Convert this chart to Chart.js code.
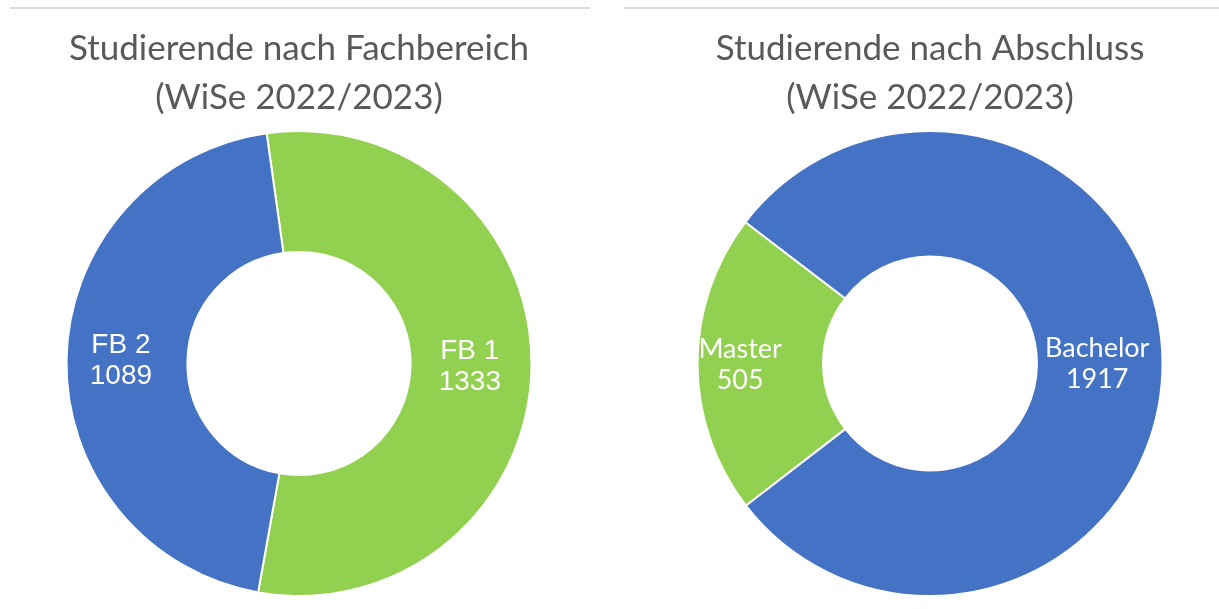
<!DOCTYPE html>
<html lang="de">
<head>
  <meta charset="UTF-8">
  <title>Studierende WiSe 2022/2023</title>
  <script src="https://cdn.jsdelivr.net/npm/chart.js"></script>
  <style>
    body { margin: 0; background: #fff; width: 1219px; height: 609px; overflow: hidden; position: relative; }
    .rule { position: absolute; top: 7px; height: 2px; background: #dcdcdc; }
    .box { position: absolute; top: 0; height: 609px; }
  </style>
</head>
<body>
  <div class="rule" style="left:10px;width:580px"></div>
  <div class="rule" style="left:624px;width:595px"></div>
  <div class="box" style="left:0;width:598px"><canvas id="chartFach"></canvas></div>
  <div class="box" style="left:641px;width:578px"><canvas id="chartAbschluss"></canvas></div>
  <script>
    // data
    const fachLabels = ['FB 1', 'FB 2'];
    const fachValues = [1333, 1089];
    const abschlussLabels = ['Bachelor', 'Master'];
    const abschlussValues = [1917, 505];

    const blue = '#4472C4';
    const green = '#92D050';

    // draws "label / value" inside each slice; pos = where across the ring (0 inner, 1 outer)
    const sliceLabels = {
      id: 'sliceLabels',
      afterDatasetsDraw(chart, args, opts) {
        const ctx = chart.ctx;
        const meta = chart.getDatasetMeta(0);
        const ds = chart.data.datasets[0];
        ctx.save();
        ctx.fillStyle = '#fff';
        ctx.font = opts.font;
        ctx.textAlign = 'center';
        ctx.textBaseline = 'middle';
        meta.data.forEach((arc, i) => {
          const a = (arc.startAngle + arc.endAngle) / 2;
          const r = arc.innerRadius + (opts.pos[i] || 0.5) * (arc.outerRadius - arc.innerRadius);
          const x = arc.x + Math.cos(a) * r;
          const y = arc.y + Math.sin(a) * r;
          ctx.fillText(chart.data.labels[i], x, y - 15);
          ctx.fillText(String(ds.data[i]), x, y + 16);
        });
        ctx.restore();
      }
    };

    function makeChart(id, labels, values, colors, rotation, cutout, title, labelFont, pos) {
      return new Chart(document.getElementById(id), {
        type: 'doughnut',
        data: {
          labels: labels,
          datasets: [{
            data: values,
            backgroundColor: colors,
            borderColor: '#fff',
            borderWidth: 2
          }]
        },
        options: {
          responsive: false,
          animation: false,
          rotation: rotation,
          cutout: cutout,
          layout: { padding: { bottom: 12 } },
          plugins: {
            legend: { display: false },
            tooltip: { enabled: false },
            title: {
              display: true,
              text: title,
              color: '#595959',
              font: { family: 'Lato', size: 35, weight: 'normal', lineHeight: 1.4 },
              padding: { top: 24, bottom: 8 }
            },
            sliceLabels: { font: labelFont, pos: pos }
          }
        },
        plugins: [sliceLabels]
      });
    }

    document.getElementById('chartFach').width = 598;
    document.getElementById('chartFach').height = 609;
    document.getElementById('chartAbschluss').width = 578;
    document.getElementById('chartAbschluss').height = 609;

    makeChart('chartFach', fachLabels, fachValues, [green, blue], -8, '48%',
      ['Studierende nach Fachbereich', '(WiSe 2022/2023)'], '28px "Liberation Sans", Arial, sans-serif', [0.49, 0.55]);
    makeChart('chartAbschluss', abschlussLabels, abschlussValues, [blue, green], -52.6, '46%',
      ['Studierende nach Abschluss', '(WiSe 2022/2023)'], '27px Lato, sans-serif', [0.48, 0.66]);
  </script>
</body>
</html>
